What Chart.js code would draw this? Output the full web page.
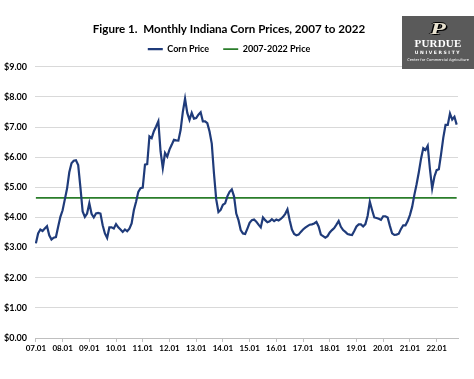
<!DOCTYPE html>
<html>
<head>
<meta charset="utf-8">
<script src="https://cdn.jsdelivr.net/npm/chart.js@4.4.1/dist/chart.umd.min.js"></script>
<style>
  html, body { margin: 0; padding: 0; background: #ffffff; }
  #wrap { position: relative; width: 474px; height: 379px; overflow: hidden; background: #fff; }
  #c { position: absolute; left: 0; top: 0; }
  #logo { position: absolute; left: 402px; top: 16px; width: 72px; height: 53px; background: #5a5a5a; color: #fff; text-align: center; font-family: "Liberation Serif", "DejaVu Serif", serif; }
  #logo .p { position: absolute; left: 0; width: 72px; top: 4px; font-size: 17px; font-weight: bold; font-style: italic; color: #e8e2d0; line-height: 17px; text-shadow: 1px 1px 0 #000, -1px 0 0 #000, 0 -1px 0 #000; letter-spacing: 0; transform: scaleX(1.5); }
  #logo .pu { position: absolute; left: 0; width: 72px; top: 22px; font-size: 11px; font-weight: bold; line-height: 11px; letter-spacing: 0.2px; }
  #logo .un { position: absolute; left: 0; width: 72px; top: 34px; font-size: 4.5px; font-weight: bold; line-height: 5px; letter-spacing: 1.6px; font-family: "DejaVu Sans", sans-serif; }
  #logo .cc { position: absolute; left: 0; width: 72px; top: 42px; font-size: 3.6px; line-height: 4px; font-family: "DejaVu Sans", sans-serif; }
</style>
</head>
<body>
<div id="wrap">
  <canvas id="c" width="474" height="379"></canvas>
  <div id="logo">
    <div class="p">P</div>
    <div class="pu">PURDUE</div>
    <div class="un">UNIVERSITY</div>
    <div class="cc">Center for Commercial Agriculture</div>
  </div>
</div>
<script>
// ---- Data ----
const chartTitle = 'Figure 1.  Monthly Indiana Corn Prices, 2007 to 2022';
const seriesNames = ['Corn Price', '2007-2022 Price'];
const yearTickLabels = ['07.01','08.01','09.01','10.01','11.01','12.01','13.01','14.01',
                        '15.01','16.01','17.01','18.01','19.01','20.01','21.01','22.01'];
// Monthly Indiana corn price ($/bu), Jan 2007 .. Oct 2022
const cornPrice = [
  3.14,3.47,3.60,3.55,3.63,3.71,3.41,3.27,3.33,3.35,3.69,4.02,   // 2007
  4.24,4.60,4.96,5.50,5.80,5.88,5.90,5.74,5.00,4.20,4.02,4.13,   // 2008
  4.47,4.12,4.00,4.13,4.15,4.13,3.74,3.47,3.32,3.67,3.67,3.63,   // 2009
  3.78,3.67,3.60,3.52,3.60,3.54,3.63,3.80,4.24,4.52,4.85,4.97,   // 2010
  4.99,5.75,5.77,6.69,6.63,6.86,7.02,7.19,6.19,5.64,6.14,6.02,   // 2011
  6.25,6.41,6.58,6.56,6.55,6.90,7.50,7.94,7.47,7.24,7.47,7.28,   // 2012
  7.30,7.41,7.49,7.19,7.19,7.13,6.85,6.45,5.45,4.60,4.18,4.25,   // 2013
  4.42,4.47,4.70,4.85,4.93,4.70,4.13,3.91,3.58,3.47,3.45,3.63,   // 2014
  3.82,3.91,3.93,3.86,3.76,3.67,4.00,3.91,3.84,3.87,3.94,3.88,   // 2015
  3.93,3.90,3.95,4.02,4.12,4.27,3.91,3.60,3.45,3.41,3.43,3.52,   // 2016
  3.60,3.66,3.71,3.76,3.77,3.80,3.85,3.70,3.43,3.38,3.33,3.38,   // 2017
  3.50,3.58,3.65,3.76,3.88,3.69,3.58,3.52,3.45,3.43,3.42,3.55,   // 2018
  3.70,3.77,3.77,3.70,3.78,4.05,4.52,4.25,4.00,3.98,3.96,3.92,   // 2019
  4.04,4.04,4.00,3.72,3.47,3.42,3.43,3.46,3.62,3.74,3.74,3.88,   // 2020
  4.08,4.35,4.75,5.10,5.50,5.95,6.30,6.24,6.38,5.60,4.96,5.35,   // 2021
  5.57,5.60,6.10,6.65,7.07,7.07,7.45,7.25,7.34,7.08              // 2022
];
const averagePrice = 4.65;   // 2007-2022 average
const yMin = 0, yMax = 9, yStep = 1;
const monthsPerTick = 12;

// ---- Build chart ----
const cornPoints = cornPrice.map((v, i) => ({ x: i, y: v }));
const avgPoints = cornPrice.map((v, i) => ({ x: i, y: averagePrice }));
const blue = '#1f3b7a';
const green = '#2a7d2a';
const FONT = 'Lato, "Open Sans", "Liberation Sans", sans-serif';

new Chart(document.getElementById('c'), {
  type: 'line',
  data: {
    datasets: [
      { label: seriesNames[0], data: cornPoints, borderColor: blue, backgroundColor: blue,
        borderWidth: 2.2, pointRadius: 0, tension: 0, fill: false },
      { label: seriesNames[1], data: avgPoints, borderColor: green, backgroundColor: green,
        borderWidth: 1.8, pointRadius: 0, tension: 0, fill: false }
    ]
  },
  options: {
    responsive: false,
    devicePixelRatio: 1,
    animation: false,
    layout: { padding: { left: 0, right: 16, top: 0, bottom: 0 } },
    plugins: {
      tooltip: { enabled: false },
      title: {
        display: true, text: chartTitle, color: '#000', weight: 2000,
        font: { family: FONT, size: 11.6, weight: 'bold', lineHeight: 1.3 },
        padding: { top: 22, bottom: 0 }
      },
      legend: {
        display: true, position: 'top', weight: 1800,
        labels: {
          color: '#000', usePointStyle: true, pointStyle: 'line', pointStyleWidth: 15,
          boxHeight: 9, padding: 7.5,
          font: { family: FONT, size: 9, weight: 'bold' },
          generateLabels: (chart) => {
            const items = Chart.defaults.plugins.legend.labels.generateLabels(chart);
            items.forEach((it, k) => { it.pointStyle = 'line'; if (k === 0) it.text = it.text + '   '; });
            return items;
          }
        }
      },
      subtitle: {
        display: true, text: ' ', weight: 1500,
        font: { size: 1, lineHeight: 1 }, padding: { top: 0, bottom: 2.2 }
      }
    },
    scales: {
      x: {
        type: 'linear', min: -0.4, max: 189.6,
        afterFit: (s) => { s.height = 41; },
        afterBuildTicks: (s) => {
          s.ticks = yearTickLabels.map((t, k) => ({ value: k * monthsPerTick }));
        },
        ticks: {
          autoSkip: false, maxRotation: 0, padding: 2, color: '#000',
          font: { family: FONT, size: 8, weight: 'bold' },
          callback: (v) => yearTickLabels[Math.round(v / monthsPerTick)]
        },
        grid: { display: true, drawOnChartArea: false, drawTicks: true, tickLength: 4, color: '#bfbfbf' },
        border: { display: true, color: '#bfbfbf' }
      },
      y: {
        min: yMin, max: yMax,
        afterFit: (s) => { s.width = 35; },
        ticks: {
          stepSize: yStep, padding: 8, color: '#000',
          font: { family: FONT, size: 9, weight: 'bold' },
          callback: (v) => '$' + Number(v).toFixed(2)
        },
        grid: { color: '#d9d9d9', lineWidth: 1, drawTicks: false },
        border: { display: false }
      }
    }
  }
});
</script>
</body>
</html>
